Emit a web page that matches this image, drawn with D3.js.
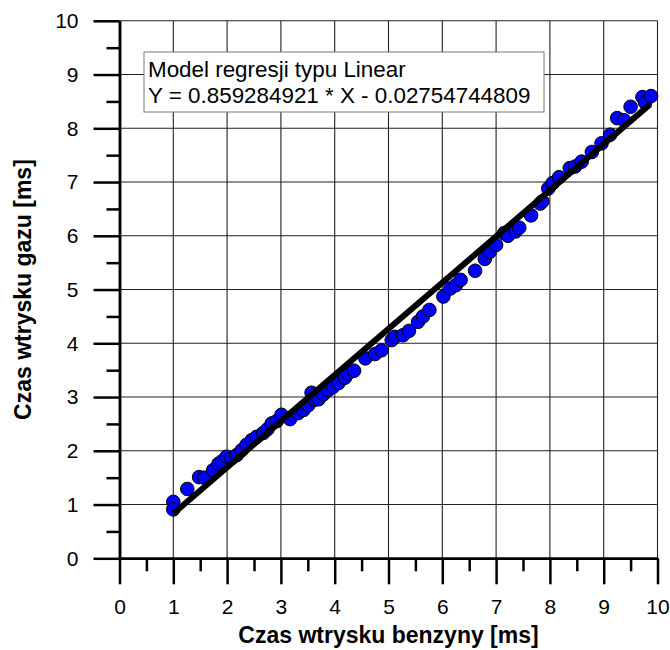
<!DOCTYPE html>
<html>
<head>
<meta charset="utf-8">
<script src="https://cdn.jsdelivr.net/npm/d3@7"></script>
<style>
  body { margin: 0; background: #fff; }
  text { font-family: "Liberation Sans", Arial, sans-serif; }
</style>
</head>
<body>
<script>
const w = 670
const h = 650

// measured points: benzyna (x) vs gaz (y), ms
const benzyna = [1.00, 1.00, 1.26, 1.48, 1.58, 1.74, 1.84, 1.90, 1.99, 2.08, 2.18, 2.27, 2.36, 2.46, 2.55,
  2.67, 2.75, 2.83, 2.92, 3.01, 3.17, 3.32, 3.42, 3.51, 3.57, 3.63, 3.70, 3.79, 3.88, 3.97,
  4.07, 4.19, 4.25, 4.36, 4.57, 4.75, 4.87, 5.06, 5.12, 5.27, 5.38, 5.55, 5.64, 5.76, 6.02,
  6.15, 6.25, 6.34, 6.61, 6.79, 6.88, 7.00, 7.15, 7.22, 7.36, 7.43, 7.65, 7.82, 7.86, 7.97,
  8.05, 8.17, 8.37, 8.47, 8.59, 8.78, 8.96, 9.12, 9.25, 9.38, 9.50, 9.72, 9.77, 9.88]
const gaz = [1.05, 0.91, 1.29, 1.51, 1.50, 1.64, 1.76, 1.80, 1.89, 1.86, 1.92, 2.01, 2.11, 2.20, 2.26,
  2.33, 2.40, 2.51, 2.55, 2.67, 2.59, 2.70, 2.76, 2.85, 3.08, 2.95, 2.96, 3.05, 3.13, 3.19,
  3.26, 3.36, 3.44, 3.49, 3.72, 3.80, 3.87, 4.06, 4.12, 4.15, 4.23, 4.40, 4.50, 4.62, 4.87,
  5.02, 5.08, 5.18, 5.35, 5.57, 5.70, 5.83, 6.05, 6.00, 6.08, 6.15, 6.38, 6.60, 6.64, 6.88,
  6.98, 7.09, 7.26, 7.29, 7.38, 7.56, 7.72, 7.88, 8.19, 8.15, 8.40, 8.58, 8.48, 8.60]

const slope = 0.859284921
const intercept = -0.02754744809
const fitRange = [1, 9.86]
const legendLines = ['Model regresji typu Linear', 'Y = 0.859284921 * X - 0.02754744809']
const majorTicks = d3.range(0, 11)
const minorTicks = d3.range(0.5, 10, 1)

const svg = d3.select('body').append('svg').attr('width', w).attr('height', h)

const x = d3.scaleLinear().domain([0, 10]).range([119.5, 657.5])
const y = d3.scaleLinear().domain([0, 10]).range([558.3, 20.8])

// grid
const grid = svg.append('g').attr('stroke', '#222').attr('stroke-width', 1.1)
grid.selectAll('.gx').data(majorTicks.slice(1)).enter().append('line')
  .attr('x1', d => x(d)).attr('x2', d => x(d)).attr('y1', y(0)).attr('y2', y(10))
grid.selectAll('.gy').data(majorTicks.slice(1)).enter().append('line')
  .attr('y1', d => y(d)).attr('y2', d => y(d)).attr('x1', x(0)).attr('x2', x(10))

// legend box
const lg = svg.append('g')
lg.append('rect').attr('x', 144).attr('y', 52).attr('width', 400).attr('height', 60)
  .attr('fill', '#fff').attr('stroke', '#777').attr('stroke-width', 1)
lg.selectAll('text').data(legendLines).enter().append('text')
  .attr('x', 148).attr('y', (d, i) => 77 + i * 26)
  .attr('font-size', 22.4).attr('fill', '#000').text(d => d)

// points
svg.append('g').selectAll('circle').data(benzyna).enter().append('circle')
  .attr('cx', d => x(d)).attr('cy', (d, i) => y(gaz[i])).attr('r', 6.8)
  .attr('fill', '#0000ff').attr('stroke', '#000').attr('stroke-width', 1)

// regression line
svg.append('line')
  .attr('x1', x(fitRange[0])).attr('y1', y(slope * fitRange[0] + intercept))
  .attr('x2', x(fitRange[1])).attr('y2', y(slope * fitRange[1] + intercept))
  .attr('stroke', '#000').attr('stroke-width', 6)

// axes
function styleAxis(g) {
  g.selectAll('path, line').attr('stroke', '#000').attr('stroke-width', 2.5)
  g.selectAll('text').attr('font-size', 21).attr('fill', '#000')
    .attr('font-family', '"Liberation Sans", Arial, sans-serif')
}

svg.append('g').attr('transform', 'translate(' + x(0) + ',0)')
  .call(d3.axisLeft(y).tickValues(majorTicks).tickSize(26).tickSizeOuter(0).tickPadding(15).tickFormat(d3.format('d')))
  .call(styleAxis)
svg.append('g').attr('transform', 'translate(' + x(0) + ',0)')
  .call(d3.axisLeft(y).tickValues(minorTicks).tickSize(13).tickSizeOuter(0).tickFormat(''))
  .call(styleAxis)

svg.append('g').attr('transform', 'translate(0,' + y(0) + ')')
  .call(d3.axisBottom(x).tickValues(majorTicks).tickSize(26).tickSizeOuter(0).tickPadding(15).tickFormat(d3.format('d')))
  .call(styleAxis)
svg.append('g').attr('transform', 'translate(0,' + y(0) + ')')
  .call(d3.axisBottom(x).tickValues(minorTicks).tickSize(13).tickSizeOuter(0).tickFormat(''))
  .call(styleAxis)

// titles
svg.append('text').attr('x', (x(0) + x(10)) / 2).attr('y', 643)
  .attr('text-anchor', 'middle').attr('font-size', 23).attr('font-weight', 'bold')
  .text('Czas wtrysku benzyny [ms]')
svg.append('text').attr('transform', 'translate(31,' + ((y(0) + y(10)) / 2) + ') rotate(-90)')
  .attr('text-anchor', 'middle').attr('font-size', 23).attr('font-weight', 'bold')
  .text('Czas wtrysku gazu [ms]')
</script>
</body>
</html>
